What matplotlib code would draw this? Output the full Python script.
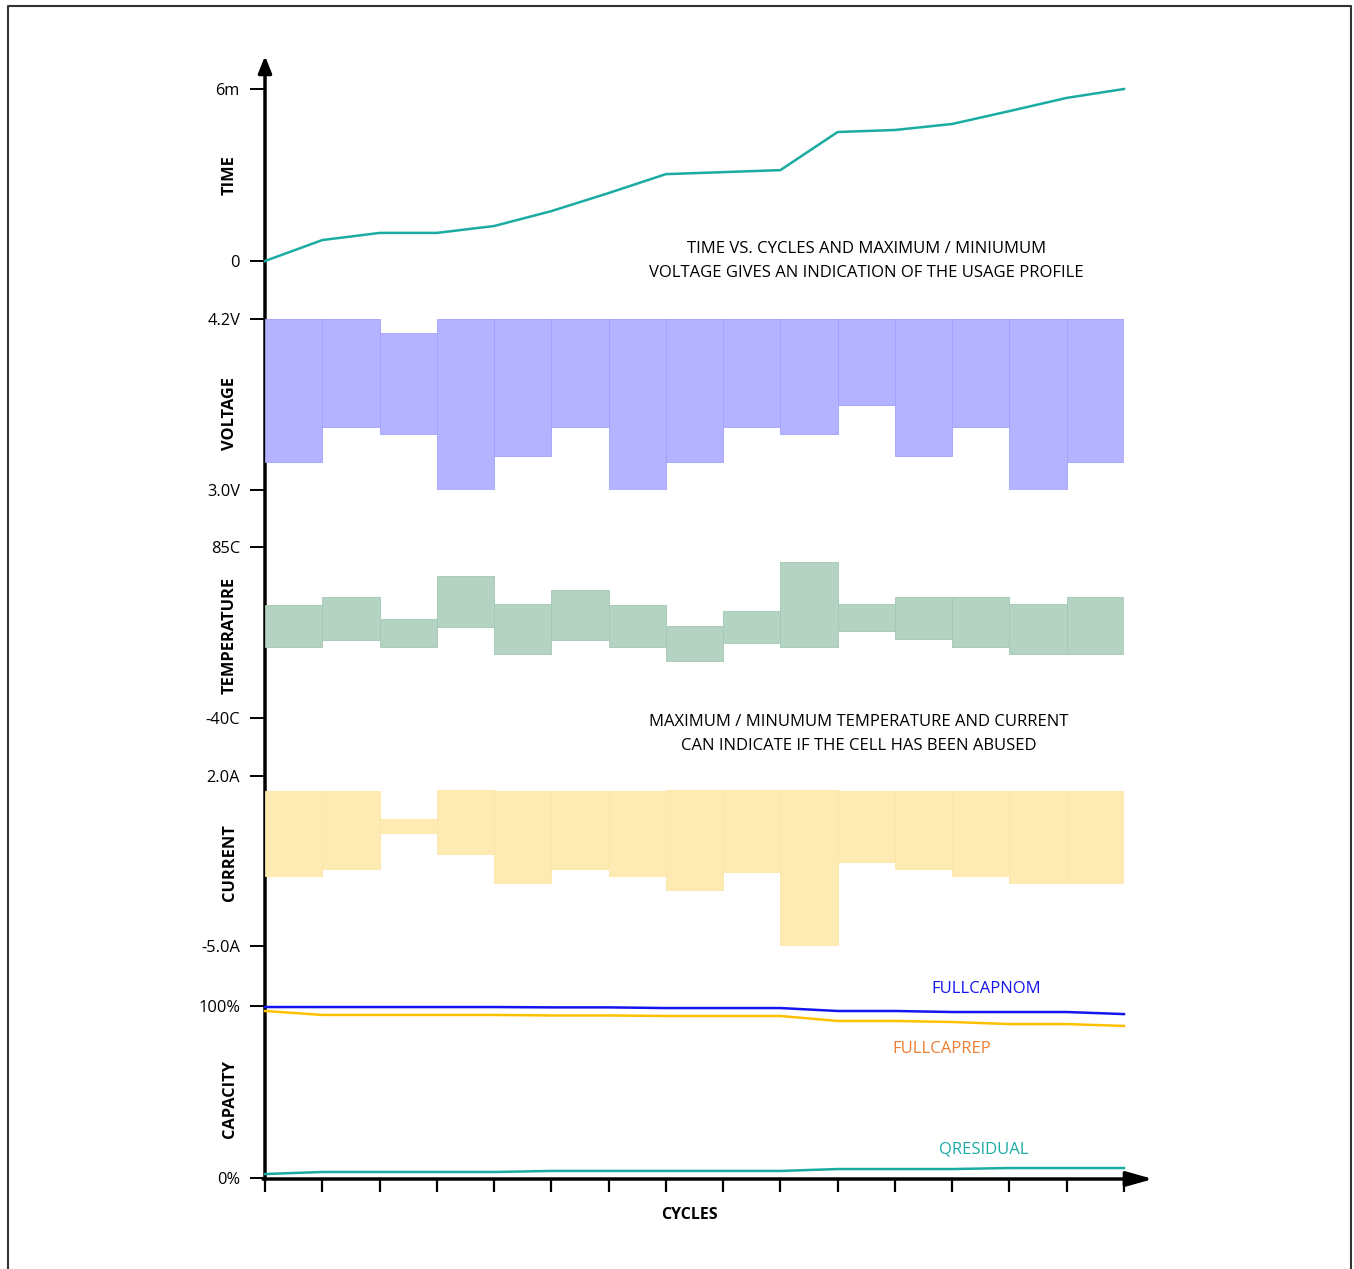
import matplotlib.pyplot as plt
import numpy as np

plt.rcParams['font.family'] = ['Open Sans', 'DejaVu Sans']

# cycle index (16 sample points, 15 intervals)
cycles = np.arange(16)

# elapsed time (minutes) at each cycle
time_min = [0, 0.73, 0.98, 0.98, 1.22, 1.74, 2.37, 3.03, 3.10, 3.17,
            4.50, 4.57, 4.78, 5.23, 5.69, 6.0]

# per-interval max / min voltage (V)
volt_max = [4.2, 4.2, 4.10, 4.2, 4.2, 4.2, 4.2, 4.2, 4.2, 4.2, 4.2, 4.2, 4.2, 4.2, 4.2]
volt_min = [3.20, 3.44, 3.39, 3.0, 3.24, 3.44, 3.0, 3.20, 3.44, 3.39, 3.60, 3.24, 3.44, 3.0, 3.20]

# per-interval max / min temperature (C)
temp_max = [42.6, 48.5, 32.4, 63.8, 43.3, 53.6, 42.6, 27.3, 38.2, 74.1, 43.3, 48.5, 48.5, 43.3, 48.5]
temp_min = [11.9, 17.0, 11.9, 26.5, 6.8, 17.0, 11.9, 1.7, 14.8, 11.9, 23.6, 17.7, 11.9, 6.8, 6.8]

# per-interval max / min current (A)
curr_max = [1.38, 1.38, 0.23, 1.42, 1.38, 1.38, 1.38, 1.42, 1.42, 1.42, 1.38, 1.38, 1.38, 1.38, 1.38]
curr_min = [-2.12, -1.83, -0.35, -1.21, -2.40, -1.83, -2.12, -2.69, -1.95, -5.0, -1.54, -1.83, -2.12, -2.40, -2.40]

# capacity (%)
fullcapnom = [99.4, 99.4, 99.4, 99.4, 99.4, 99.2, 99.2, 98.8, 98.8, 98.8, 97.1, 97.1, 96.5, 96.5, 96.5, 95.3]
fullcaprep = [97.1, 94.8, 94.8, 94.8, 94.8, 94.5, 94.5, 94.2, 94.2, 94.2, 91.3, 91.3, 90.7, 89.5, 89.5, 88.4]
qresidual = [2.3, 3.5, 3.5, 3.5, 3.5, 4.1, 4.1, 4.1, 4.1, 4.1, 5.2, 5.2, 5.2, 5.8, 5.8, 5.8]

W, H = 1354, 1269
fig = plt.figure(figsize=(W / 100, H / 100), dpi=100)

# background axes in pixel coordinates for frame and axis arrows
bg = fig.add_axes([0, 0, 1, 1])
bg.set_xlim(0, W)
bg.set_ylim(H, 0)
bg.axis('off')
bg.plot([8, 8, 1351, 1351], [H + 5, 6, 6, H + 5], color='#333333', lw=1.5, clip_on=False)
bg.annotate('', xy=(265, 56), xytext=(265, 1180),
            arrowprops=dict(arrowstyle='-|>,head_length=1.0,head_width=0.4', color='black', lw=2.5, shrinkA=0, shrinkB=0))
bg.annotate('', xy=(1153, 1179), xytext=(263, 1179),
            arrowprops=dict(arrowstyle='-|>,head_length=1.6,head_width=0.45', color='black', lw=2.5, shrinkA=0, shrinkB=0))

x0, x1 = 265, 1124


def panel(ytop, ybot, lo, hi, labels, name, label_y=0.5):
    ax = fig.add_axes([x0 / W, 1 - ybot / H, (x1 - x0) / W, (ybot - ytop) / H])
    ax.set_xlim(0, 15)
    ax.set_ylim(lo, hi)
    for s in ax.spines.values():
        s.set_visible(False)
    ax.set_yticks([lo, hi])
    ax.set_yticklabels(labels, fontsize=11.8)
    ax.tick_params(axis='y', direction='out', length=11, width=1.4, pad=7)
    ax.set_xticks([])
    ax.patch.set_alpha(0)
    ax.set_ylabel(name, fontsize=11.8, fontweight='bold')
    ax.yaxis.set_label_coords(-27 / (x1 - x0), label_y)
    return ax


ax_t = panel(89, 261, 0, 6, ['0', '6m'], 'TIME')
ax_t.plot(cycles, time_min, color='#1aaca2', lw=1.8, clip_on=False)
ax_t.text(0.7003, 0.0, 'TIME VS. CYCLES AND MAXIMUM / MINIUMUM\nVOLTAGE GIVES AN INDICATION OF THE USAGE PROFILE',
          transform=ax_t.transAxes, ha='center', va='center', fontsize=12, linespacing=1.62)

ax_v = panel(319, 490, 3.0, 4.2, ['3.0V', '4.2V'], 'VOLTAGE', 0.45)
ax_v.bar(cycles[:-1], np.subtract(volt_max, volt_min), bottom=volt_min, width=1, align='edge',
         color='#b3b3ff', edgecolor='#a0a0ff', lw=0.6)

ax_c = panel(547, 718, -40, 85, ['-40C', '85C'], 'TEMPERATURE', 0.485)
ax_c.bar(cycles[:-1], np.subtract(temp_max, temp_min), bottom=temp_min, width=1, align='edge',
         color='#b4d3c2', edgecolor='#a2c8b3', lw=0.6)
ax_c.text(0.6911, -0.094, 'MAXIMUM / MINUMUM TEMPERATURE AND CURRENT\nCAN INDICATE IF THE CELL HAS BEEN ABUSED',
          transform=ax_c.transAxes, ha='center', va='center', fontsize=12, linespacing=1.62)

ax_i = panel(776, 946, -5.0, 2.0, ['-5.0A', '2.0A'], 'CURRENT', 0.49)
ax_i.bar(cycles[:-1], np.subtract(curr_max, curr_min), bottom=curr_min, width=1, align='edge',
         color='#feeab3', edgecolor='#fde5a4', lw=0.6)

ax_q = panel(1006, 1178, 0, 100, ['0%', '100%'], 'CAPACITY', 0.46)
ax_q.plot(cycles, fullcapnom, color='#1414f0', lw=1.8, clip_on=False)
ax_q.plot(cycles, fullcaprep, color='#ffc000', lw=1.8, clip_on=False)
ax_q.plot(cycles, qresidual, color='#1aaca2', lw=1.8, clip_on=False)
ax_q.text(12.59, 109.6, 'FULLCAPNOM', color='#1414f0', fontsize=12, ha='center', va='center')
ax_q.text(11.82, 74.8, 'FULLCAPREP', color='#ed7d31', fontsize=12, ha='center', va='center')
ax_q.text(12.55, 16.3, 'QRESIDUAL', color='#1aaca2', fontsize=12, ha='center', va='center')
ax_q.set_xticks(cycles)
ax_q.set_xticklabels([])
ax_q.tick_params(axis='x', direction='out', length=10, width=1.6)
ax_q.text((689 - x0) / (x1 - x0), -37 / 172, 'CYCLES', transform=ax_q.transAxes,
          fontsize=11.5, fontweight='bold', ha='center', va='center')

fig.savefig('out.png', dpi=100)
